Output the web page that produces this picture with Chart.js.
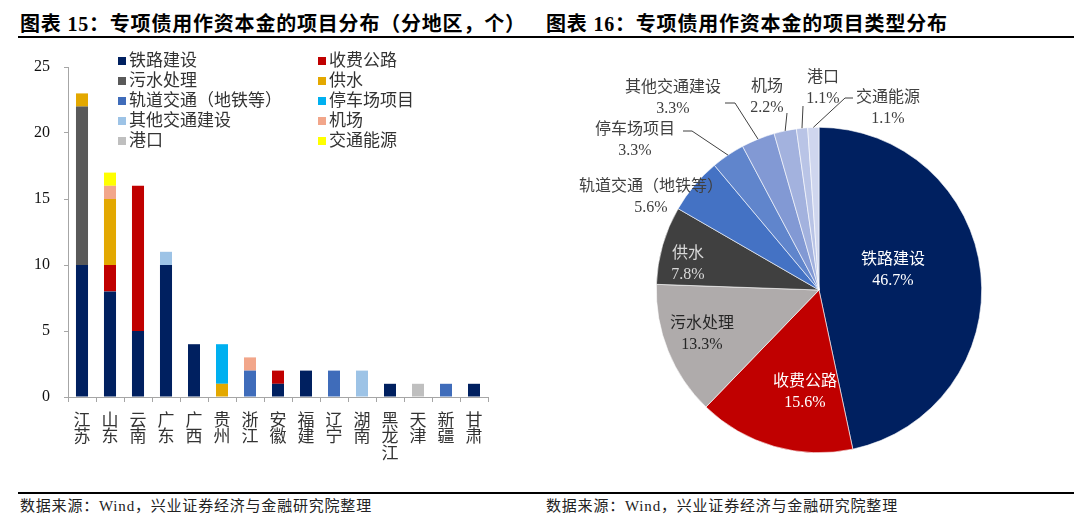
<!DOCTYPE html>
<html>
<head>
<meta charset="utf-8">
<script src="https://cdn.jsdelivr.net/npm/chart.js@4/dist/chart.umd.min.js"></script>
<style>
  html, body { margin:0; padding:0; background:#fff; }
  body { width:1080px; height:521px; position:relative; overflow:hidden;
         font-family:'Liberation Serif','Noto Sans CJK SC',serif; }
  .title { position:absolute; top:8px; font-size:20px; font-weight:bold; color:#000;
           letter-spacing:0.8px; white-space:nowrap; font-family:'Liberation Serif','Noto Sans CJK SC',serif; }
  .rule { position:absolute; height:2px; background:#000; }
  .foot { position:absolute; top:494px; font-size:15px; color:#222; letter-spacing:0.8px; white-space:nowrap; }
  #barBox { position:absolute; left:0; top:40px; width:510px; height:440px; }
  #pieBox { position:absolute; left:540px; top:40px; width:540px; height:450px; }
  .lg { position:absolute; font-size:17px; color:#333; white-space:nowrap; line-height:20px; }
  .lg i { display:inline-block; width:8px; height:8px; margin-right:3px; vertical-align:1px; }
</style>
</head>
<body>
<div class="title" style="left:20px">图表 15：专项债用作资本金的项目分布（分地区，个）</div>
<div class="title" style="left:546px">图表 16：专项债用作资本金的项目类型分布</div>
<div class="rule" style="left:18px; width:1056px; top:36px"></div>
<div class="rule" style="left:18px; width:1056px; top:492px"></div>
<div class="foot" style="left:20px">数据来源：Wind，兴业证券经济与金融研究院整理</div>
<div class="foot" style="left:546px">数据来源：Wind，兴业证券经济与金融研究院整理</div>

<div id="barBox"><canvas id="bar"></canvas></div>
<div id="pieBox"><canvas id="pie"></canvas></div>
<div id="legend"></div>

<script>
// ---------- DATA ----------
const provinces = ['江苏','山东','云南','广东','广西','贵州','浙江','安徽','福建','辽宁','湖南','黑龙江','天津','新疆','甘肃'];
const seriesNames = ['铁路建设','收费公路','污水处理','供水','轨道交通（地铁等）','停车场项目','其他交通建设','机场','港口','交通能源'];
const railway    = [10, 8, 5,10, 4, 0, 0, 1, 2, 0, 0, 1, 0, 0, 1];
const tollRoad   = [ 0, 2,11, 0, 0, 0, 0, 1, 0, 0, 0, 0, 0, 0, 0];
const sewage     = [12, 0, 0, 0, 0, 0, 0, 0, 0, 0, 0, 0, 0, 0, 0];
const waterSupply= [ 1, 5, 0, 0, 0, 1, 0, 0, 0, 0, 0, 0, 0, 0, 0];
const railTransit= [ 0, 0, 0, 0, 0, 0, 2, 0, 0, 2, 0, 0, 0, 1, 0];
const parking    = [ 0, 0, 0, 0, 0, 3, 0, 0, 0, 0, 0, 0, 0, 0, 0];
const otherTrans = [ 0, 0, 0, 1, 0, 0, 0, 0, 0, 0, 2, 0, 0, 0, 0];
const airport    = [ 0, 1, 0, 0, 0, 0, 1, 0, 0, 0, 0, 0, 0, 0, 0];
const port       = [ 0, 0, 0, 0, 0, 0, 0, 0, 0, 0, 0, 0, 1, 0, 0];
const transEnergy= [ 0, 1, 0, 0, 0, 0, 0, 0, 0, 0, 0, 0, 0, 0, 0];
const yTicks = [0, 5, 10, 15, 20, 25];

const pieLabels = ['铁路建设','收费公路','污水处理','供水','轨道交通（地铁等）','停车场项目','其他交通建设','机场','港口','交通能源'];
const pieValues = [42, 14, 12, 7, 5, 3, 3, 2, 1, 1];

// ---------- STYLES ----------
const barColors = ['#002060','#C00000','#595959','#E3A800','#3F6CBA','#00B0F0','#9DC3E6','#F2A68A','#BFBFBF','#FFFF00'];
const pieColors = ['#002060','#C00000','#AFABAB','#404040','#4472C4','#6085CC','#8299D4','#A3B2DE','#B9C4E6','#CFD6EE'];
const FONT = "'Liberation Serif','Noto Sans CJK SC',serif";

// ---------- BAR CHART ----------
const barSeries = [railway, tollRoad, sewage, waterSupply, railTransit, parking, otherTrans, airport, port, transEnergy];
new Chart(document.getElementById('bar'), {
  type: 'bar',
  data: {
    labels: provinces.map(p => p.split('')),
    datasets: barSeries.map((d, i) => ({
      label: seriesNames[i], data: d, backgroundColor: barColors[i],
      borderWidth: 0, categoryPercentage: 1, barPercentage: 0.43
    }))
  },
  options: {
    responsive: true, maintainAspectRatio: false, animation: false,
    layout: { padding: { top: 27, right: 22, left: 0, bottom: 0 } },
    plugins: { legend: { display: false }, tooltip: { enabled: false } },
    scales: {
      x: {
        stacked: true,
        afterFit: s => { s.height = 83; },
        grid: { drawOnChartArea: false, drawTicks: true, tickLength: 5, color: '#A6A6A6', offset: true },
        border: { display: true, color: '#A6A6A6', width: 1 },
        ticks: { color: '#333', font: { family: FONT, size: 17, lineHeight: 0.98 }, padding: 11, maxRotation: 0, autoSkip: false }
      },
      y: {
        stacked: true, min: 0, max: 25,
        afterFit: s => { s.width = 68; },
        afterBuildTicks: s => { s.ticks = yTicks.map(v => ({ value: v })); },
        grid: { drawOnChartArea: false, drawTicks: true, tickLength: 4, color: '#A6A6A6' },
        border: { display: true, color: '#A6A6A6', width: 1 },
        ticks: { color: '#111', font: { family: FONT, size: 16 }, padding: 14 }
      }
    }
  }
});

// HTML legend (2 columns, row-major)
const lg = document.getElementById('legend');
seriesNames.forEach((n, i) => {
  const d = document.createElement('div');
  d.className = 'lg';
  d.style.left = (i % 2 === 0 ? 118 : 318) + 'px';
  d.style.top = (51 + Math.floor(i / 2) * 20) + 'px';
  d.innerHTML = '<i style="background:' + barColors[i] + '"></i>' + n;
  lg.appendChild(d);
});

// ---------- PIE CHART ----------
// label block centres / leader lines, as offsets from the pie centre (px)
const pieLabelStyle = [
  { dx: 74,  dy: -20, color: '#FFFFFF' },
  { dx: -14, dy: 102, color: '#FFFFFF' },
  { dx: -117,dy: 44,  color: '#262626' },
  { dx: -131,dy: -26, color: '#D9D9D9' },
  { dx: -168,dy: -93, color: '#404040' },
  { dx: -184,dy: -150,color: '#404040', lead: [[-136,-159],[-127,-159]] },
  { dx: -146,dy: -192,color: '#404040', lead: [[-94,-187],[-84,-187]] },
  { dx: -52, dy: -193,color: '#404040', lead: [[-32,-177]] },
  { dx: 4,   dy: -202,color: '#404040', lead: [[-16,-184]] },
  { dx: 69,  dy: -182,color: '#404040', lead: [[34,-192],[26,-192]] }
];
const pieLabelPlugin = {
  id: 'pieLabels',
  afterDatasetsDraw(chart) {
    const ctx = chart.ctx;
    const meta = chart.getDatasetMeta(0);
    const vals = chart.data.datasets[0].data;
    const total = vals.reduce((a, b) => a + b, 0);
    ctx.save();
    meta.data.forEach((arc, i) => {
      const st = pieLabelStyle[i];
      const cx = arc.x, cy = arc.y;
      if (st.lead) {
        const mid = (arc.startAngle + arc.endAngle) / 2;
        const ex = cx + Math.cos(mid) * arc.outerRadius;
        const ey = cy + Math.sin(mid) * arc.outerRadius;
        ctx.beginPath();
        ctx.strokeStyle = '#404040';
        ctx.lineWidth = 1;
        ctx.moveTo(cx + st.lead[0][0], cy + st.lead[0][1]);
        st.lead.slice(1).forEach(p => ctx.lineTo(cx + p[0], cy + p[1]));
        ctx.lineTo(ex, ey);
        ctx.stroke();
      }
      const x = cx + st.dx, y = cy + st.dy;
      ctx.fillStyle = st.color;
      ctx.textAlign = 'center';
      ctx.textBaseline = 'middle';
      ctx.font = '16px ' + FONT;
      ctx.fillText(chart.data.labels[i], x, y - 10.5);
      ctx.fillText((vals[i] / total * 100).toFixed(1) + '%', x, y + 10.5);
    });
    ctx.restore();
  }
};
new Chart(document.getElementById('pie'), {
  type: 'pie',
  data: { labels: pieLabels, datasets: [{ data: pieValues, backgroundColor: pieColors, borderColor: '#FFFFFF', borderWidth: 0.6 }] },
  options: {
    responsive: true, maintainAspectRatio: false, animation: false,
    layout: { padding: { left: 116, right: 98, top: 87, bottom: 37 } },
    plugins: { legend: { display: false }, tooltip: { enabled: false } }
  },
  plugins: [pieLabelPlugin]
});
</script>
</body>
</html>
